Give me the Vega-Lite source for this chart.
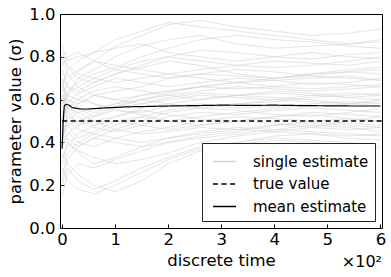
{
"$schema": "https://vega.github.io/schema/vega-lite/v6.json",
"width": 322, "height": 214,
"autosize": "none",
"padding": {"left": 60, "top": 14, "right": 9, "bottom": 49},
"background": "white",
"config": {
  "font": "DejaVu Sans",
  "view": {"stroke": "black", "strokeWidth": 1},
  "axis": {"grid": false, "domain": false, "tickColor": "black", "tickSize": -4, "labelFontSize": 16.5, "labelColor": "black", "titleFontSize": 16.5, "titleFontWeight": "normal", "titleColor": "black"},
  "legend": {"orient": "bottom-right", "offset": 7, "strokeColor": "#222", "fillColor": "white", "padding": 6, "labelFontSize": 15, "labelColor": "black", "symbolType": "stroke", "symbolSize": 529, "symbolStrokeWidth": 1.3, "symbolOffset": 4, "labelOffset": 16, "rowPadding": 1.5, "title": null}
},
"datasets": {
"single": [
{"i":1,"t":0,"v":0.45},{"i":1,"t":10,"v":0.62},{"i":1,"t":30,"v":0.70},{"i":1,"t":60,"v":0.74},{"i":1,"t":100,"v":0.80},{"i":1,"t":150,"v":0.85},{"i":1,"t":200,"v":0.88},{"i":1,"t":260,"v":0.90},{"i":1,"t":330,"v":0.86},{"i":1,"t":400,"v":0.84},{"i":1,"t":470,"v":0.85},{"i":1,"t":540,"v":0.86},{"i":1,"t":600,"v":0.88},
{"i":2,"t":0,"v":0.70},{"i":2,"t":10,"v":0.55},{"i":2,"t":30,"v":0.48},{"i":2,"t":60,"v":0.50},{"i":2,"t":100,"v":0.52},{"i":2,"t":150,"v":0.55},{"i":2,"t":200,"v":0.53},{"i":2,"t":260,"v":0.51},{"i":2,"t":330,"v":0.50},{"i":2,"t":400,"v":0.52},{"i":2,"t":470,"v":0.53},{"i":2,"t":540,"v":0.51},{"i":2,"t":600,"v":0.50},
{"i":3,"t":0,"v":0.30},{"i":3,"t":10,"v":0.40},{"i":3,"t":30,"v":0.35},{"i":3,"t":60,"v":0.30},{"i":3,"t":100,"v":0.33},{"i":3,"t":150,"v":0.38},{"i":3,"t":200,"v":0.42},{"i":3,"t":260,"v":0.45},{"i":3,"t":330,"v":0.47},{"i":3,"t":400,"v":0.46},{"i":3,"t":470,"v":0.48},{"i":3,"t":540,"v":0.47},{"i":3,"t":600,"v":0.45},
{"i":4,"t":0,"v":0.80},{"i":4,"t":10,"v":0.75},{"i":4,"t":30,"v":0.70},{"i":4,"t":60,"v":0.68},{"i":4,"t":100,"v":0.72},{"i":4,"t":150,"v":0.75},{"i":4,"t":200,"v":0.78},{"i":4,"t":260,"v":0.76},{"i":4,"t":330,"v":0.72},{"i":4,"t":400,"v":0.70},{"i":4,"t":470,"v":0.71},{"i":4,"t":540,"v":0.73},{"i":4,"t":600,"v":0.72},
{"i":5,"t":0,"v":0.50},{"i":5,"t":10,"v":0.45},{"i":5,"t":30,"v":0.40},{"i":5,"t":60,"v":0.38},{"i":5,"t":100,"v":0.42},{"i":5,"t":150,"v":0.45},{"i":5,"t":200,"v":0.47},{"i":5,"t":260,"v":0.50},{"i":5,"t":330,"v":0.52},{"i":5,"t":400,"v":0.51},{"i":5,"t":470,"v":0.50},{"i":5,"t":540,"v":0.49},{"i":5,"t":600,"v":0.48},
{"i":6,"t":0,"v":0.60},{"i":6,"t":10,"v":0.68},{"i":6,"t":30,"v":0.73},{"i":6,"t":60,"v":0.78},{"i":6,"t":100,"v":0.85},{"i":6,"t":150,"v":0.90},{"i":6,"t":200,"v":0.95},{"i":6,"t":260,"v":0.97},{"i":6,"t":330,"v":0.94},{"i":6,"t":400,"v":0.92},{"i":6,"t":470,"v":0.90},{"i":6,"t":540,"v":0.91},{"i":6,"t":600,"v":0.93},
{"i":7,"t":0,"v":0.20},{"i":7,"t":10,"v":0.28},{"i":7,"t":30,"v":0.22},{"i":7,"t":60,"v":0.18},{"i":7,"t":100,"v":0.22},{"i":7,"t":150,"v":0.28},{"i":7,"t":200,"v":0.33},{"i":7,"t":260,"v":0.38},{"i":7,"t":330,"v":0.40},{"i":7,"t":400,"v":0.42},{"i":7,"t":470,"v":0.41},{"i":7,"t":540,"v":0.40},{"i":7,"t":600,"v":0.38},
{"i":8,"t":0,"v":0.65},{"i":8,"t":10,"v":0.60},{"i":8,"t":30,"v":0.58},{"i":8,"t":60,"v":0.62},{"i":8,"t":100,"v":0.60},{"i":8,"t":150,"v":0.58},{"i":8,"t":200,"v":0.60},{"i":8,"t":260,"v":0.62},{"i":8,"t":330,"v":0.61},{"i":8,"t":400,"v":0.60},{"i":8,"t":470,"v":0.62},{"i":8,"t":540,"v":0.63},{"i":8,"t":600,"v":0.62},
{"i":9,"t":0,"v":0.40},{"i":9,"t":10,"v":0.52},{"i":9,"t":30,"v":0.56},{"i":9,"t":60,"v":0.54},{"i":9,"t":100,"v":0.58},{"i":9,"t":150,"v":0.62},{"i":9,"t":200,"v":0.64},{"i":9,"t":260,"v":0.66},{"i":9,"t":330,"v":0.65},{"i":9,"t":400,"v":0.66},{"i":9,"t":470,"v":0.68},{"i":9,"t":540,"v":0.67},{"i":9,"t":600,"v":0.66},
{"i":10,"t":0,"v":0.75},{"i":10,"t":10,"v":0.66},{"i":10,"t":30,"v":0.62},{"i":10,"t":60,"v":0.58},{"i":10,"t":100,"v":0.55},{"i":10,"t":150,"v":0.54},{"i":10,"t":200,"v":0.57},{"i":10,"t":260,"v":0.58},{"i":10,"t":330,"v":0.56},{"i":10,"t":400,"v":0.57},{"i":10,"t":470,"v":0.58},{"i":10,"t":540,"v":0.59},{"i":10,"t":600,"v":0.58},
{"i":11,"t":0,"v":0.55},{"i":11,"t":10,"v":0.48},{"i":11,"t":30,"v":0.42},{"i":11,"t":60,"v":0.45},{"i":11,"t":100,"v":0.50},{"i":11,"t":150,"v":0.48},{"i":11,"t":200,"v":0.46},{"i":11,"t":260,"v":0.48},{"i":11,"t":330,"v":0.50},{"i":11,"t":400,"v":0.49},{"i":11,"t":470,"v":0.47},{"i":11,"t":540,"v":0.46},{"i":11,"t":600,"v":0.47},
{"i":12,"t":0,"v":0.35},{"i":12,"t":10,"v":0.30},{"i":12,"t":30,"v":0.25},{"i":12,"t":60,"v":0.20},{"i":12,"t":100,"v":0.17},{"i":12,"t":150,"v":0.22},{"i":12,"t":200,"v":0.30},{"i":12,"t":260,"v":0.36},{"i":12,"t":330,"v":0.40},{"i":12,"t":400,"v":0.43},{"i":12,"t":470,"v":0.44},{"i":12,"t":540,"v":0.42},{"i":12,"t":600,"v":0.41},
{"i":13,"t":0,"v":0.85},{"i":13,"t":10,"v":0.78},{"i":13,"t":30,"v":0.80},{"i":13,"t":60,"v":0.82},{"i":13,"t":100,"v":0.84},{"i":13,"t":150,"v":0.86},{"i":13,"t":200,"v":0.82},{"i":13,"t":260,"v":0.80},{"i":13,"t":330,"v":0.78},{"i":13,"t":400,"v":0.80},{"i":13,"t":470,"v":0.82},{"i":13,"t":540,"v":0.80},{"i":13,"t":600,"v":0.79},
{"i":14,"t":0,"v":0.50},{"i":14,"t":10,"v":0.58},{"i":14,"t":30,"v":0.63},{"i":14,"t":60,"v":0.66},{"i":14,"t":100,"v":0.70},{"i":14,"t":150,"v":0.68},{"i":14,"t":200,"v":0.66},{"i":14,"t":260,"v":0.68},{"i":14,"t":330,"v":0.70},{"i":14,"t":400,"v":0.69},{"i":14,"t":470,"v":0.67},{"i":14,"t":540,"v":0.68},{"i":14,"t":600,"v":0.70},
{"i":15,"t":0,"v":0.62},{"i":15,"t":10,"v":0.52},{"i":15,"t":30,"v":0.50},{"i":15,"t":60,"v":0.47},{"i":15,"t":100,"v":0.45},{"i":15,"t":150,"v":0.48},{"i":15,"t":200,"v":0.52},{"i":15,"t":260,"v":0.54},{"i":15,"t":330,"v":0.53},{"i":15,"t":400,"v":0.55},{"i":15,"t":470,"v":0.56},{"i":15,"t":540,"v":0.55},{"i":15,"t":600,"v":0.54},
{"i":16,"t":0,"v":0.25},{"i":16,"t":10,"v":0.35},{"i":16,"t":30,"v":0.40},{"i":16,"t":60,"v":0.44},{"i":16,"t":100,"v":0.48},{"i":16,"t":150,"v":0.52},{"i":16,"t":200,"v":0.55},{"i":16,"t":260,"v":0.57},{"i":16,"t":330,"v":0.58},{"i":16,"t":400,"v":0.60},{"i":16,"t":470,"v":0.59},{"i":16,"t":540,"v":0.58},{"i":16,"t":600,"v":0.60},
{"i":17,"t":0,"v":0.72},{"i":17,"t":10,"v":0.70},{"i":17,"t":30,"v":0.74},{"i":17,"t":60,"v":0.78},{"i":17,"t":100,"v":0.76},{"i":17,"t":150,"v":0.74},{"i":17,"t":200,"v":0.72},{"i":17,"t":260,"v":0.70},{"i":17,"t":330,"v":0.68},{"i":17,"t":400,"v":0.66},{"i":17,"t":470,"v":0.65},{"i":17,"t":540,"v":0.66},{"i":17,"t":600,"v":0.67},
{"i":18,"t":0,"v":0.45},{"i":18,"t":10,"v":0.40},{"i":18,"t":30,"v":0.36},{"i":18,"t":60,"v":0.33},{"i":18,"t":100,"v":0.30},{"i":18,"t":150,"v":0.32},{"i":18,"t":200,"v":0.35},{"i":18,"t":260,"v":0.40},{"i":18,"t":330,"v":0.43},{"i":18,"t":400,"v":0.45},{"i":18,"t":470,"v":0.47},{"i":18,"t":540,"v":0.50},{"i":18,"t":600,"v":0.52},
{"i":19,"t":0,"v":0.58},{"i":19,"t":10,"v":0.64},{"i":19,"t":30,"v":0.68},{"i":19,"t":60,"v":0.72},{"i":19,"t":100,"v":0.75},{"i":19,"t":150,"v":0.80},{"i":19,"t":200,"v":0.84},{"i":19,"t":260,"v":0.88},{"i":19,"t":330,"v":0.90},{"i":19,"t":400,"v":0.88},{"i":19,"t":470,"v":0.87},{"i":19,"t":540,"v":0.85},{"i":19,"t":600,"v":0.84},
{"i":20,"t":0,"v":0.68},{"i":20,"t":10,"v":0.62},{"i":20,"t":30,"v":0.60},{"i":20,"t":60,"v":0.64},{"i":20,"t":100,"v":0.66},{"i":20,"t":150,"v":0.64},{"i":20,"t":200,"v":0.62},{"i":20,"t":260,"v":0.60},{"i":20,"t":330,"v":0.62},{"i":20,"t":400,"v":0.64},{"i":20,"t":470,"v":0.63},{"i":20,"t":540,"v":0.61},{"i":20,"t":600,"v":0.60},
{"i":21,"t":0,"v":0.15},{"i":21,"t":10,"v":0.25},{"i":21,"t":30,"v":0.30},{"i":21,"t":60,"v":0.28},{"i":21,"t":100,"v":0.32},{"i":21,"t":150,"v":0.36},{"i":21,"t":200,"v":0.40},{"i":21,"t":260,"v":0.42},{"i":21,"t":330,"v":0.44},{"i":21,"t":400,"v":0.46},{"i":21,"t":470,"v":0.45},{"i":21,"t":540,"v":0.44},{"i":21,"t":600,"v":0.43},
{"i":22,"t":0,"v":0.78},{"i":22,"t":10,"v":0.72},{"i":22,"t":30,"v":0.66},{"i":22,"t":60,"v":0.62},{"i":22,"t":100,"v":0.60},{"i":22,"t":150,"v":0.62},{"i":22,"t":200,"v":0.64},{"i":22,"t":260,"v":0.66},{"i":22,"t":330,"v":0.68},{"i":22,"t":400,"v":0.70},{"i":22,"t":470,"v":0.72},{"i":22,"t":540,"v":0.74},{"i":22,"t":600,"v":0.75},
{"i":23,"t":0,"v":0.52},{"i":23,"t":10,"v":0.56},{"i":23,"t":30,"v":0.60},{"i":23,"t":60,"v":0.58},{"i":23,"t":100,"v":0.56},{"i":23,"t":150,"v":0.58},{"i":23,"t":200,"v":0.61},{"i":23,"t":260,"v":0.63},{"i":23,"t":330,"v":0.62},{"i":23,"t":400,"v":0.61},{"i":23,"t":470,"v":0.60},{"i":23,"t":540,"v":0.58},{"i":23,"t":600,"v":0.57},
{"i":24,"t":0,"v":0.38},{"i":24,"t":10,"v":0.44},{"i":24,"t":30,"v":0.48},{"i":24,"t":60,"v":0.52},{"i":24,"t":100,"v":0.55},{"i":24,"t":150,"v":0.53},{"i":24,"t":200,"v":0.50},{"i":24,"t":260,"v":0.48},{"i":24,"t":330,"v":0.50},{"i":24,"t":400,"v":0.52},{"i":24,"t":470,"v":0.54},{"i":24,"t":540,"v":0.53},{"i":24,"t":600,"v":0.52},
{"i":25,"t":0,"v":0.66},{"i":25,"t":10,"v":0.74},{"i":25,"t":30,"v":0.78},{"i":25,"t":60,"v":0.82},{"i":25,"t":100,"v":0.88},{"i":25,"t":150,"v":0.92},{"i":25,"t":200,"v":0.96},{"i":25,"t":260,"v":0.94},{"i":25,"t":330,"v":0.92},{"i":25,"t":400,"v":0.90},{"i":25,"t":470,"v":0.88},{"i":25,"t":540,"v":0.86},{"i":25,"t":600,"v":0.87},
{"i":26,"t":0,"v":0.48},{"i":26,"t":10,"v":0.42},{"i":26,"t":30,"v":0.38},{"i":26,"t":60,"v":0.42},{"i":26,"t":100,"v":0.46},{"i":26,"t":150,"v":0.50},{"i":26,"t":200,"v":0.54},{"i":26,"t":260,"v":0.56},{"i":26,"t":330,"v":0.55},{"i":26,"t":400,"v":0.53},{"i":26,"t":470,"v":0.52},{"i":26,"t":540,"v":0.54},{"i":26,"t":600,"v":0.56},
{"i":27,"t":0,"v":0.82},{"i":27,"t":10,"v":0.76},{"i":27,"t":30,"v":0.72},{"i":27,"t":60,"v":0.70},{"i":27,"t":100,"v":0.68},{"i":27,"t":150,"v":0.70},{"i":27,"t":200,"v":0.72},{"i":27,"t":260,"v":0.74},{"i":27,"t":330,"v":0.76},{"i":27,"t":400,"v":0.78},{"i":27,"t":470,"v":0.77},{"i":27,"t":540,"v":0.76},{"i":27,"t":600,"v":0.78},
{"i":28,"t":0,"v":0.28},{"i":28,"t":10,"v":0.22},{"i":28,"t":30,"v":0.18},{"i":28,"t":60,"v":0.16},{"i":28,"t":100,"v":0.20},{"i":28,"t":150,"v":0.26},{"i":28,"t":200,"v":0.32},{"i":28,"t":260,"v":0.37},{"i":28,"t":330,"v":0.39},{"i":28,"t":400,"v":0.41},{"i":28,"t":470,"v":0.40},{"i":28,"t":540,"v":0.39},{"i":28,"t":600,"v":0.37},
{"i":29,"t":0,"v":0.60},{"i":29,"t":10,"v":0.56},{"i":29,"t":30,"v":0.54},{"i":29,"t":60,"v":0.56},{"i":29,"t":100,"v":0.58},{"i":29,"t":150,"v":0.60},{"i":29,"t":200,"v":0.62},{"i":29,"t":260,"v":0.64},{"i":29,"t":330,"v":0.66},{"i":29,"t":400,"v":0.65},{"i":29,"t":470,"v":0.64},{"i":29,"t":540,"v":0.65},{"i":29,"t":600,"v":0.66},
{"i":30,"t":0,"v":0.42},{"i":30,"t":10,"v":0.50},{"i":30,"t":30,"v":0.54},{"i":30,"t":60,"v":0.50},{"i":30,"t":100,"v":0.46},{"i":30,"t":150,"v":0.44},{"i":30,"t":200,"v":0.45},{"i":30,"t":260,"v":0.47},{"i":30,"t":330,"v":0.46},{"i":30,"t":400,"v":0.45},{"i":30,"t":470,"v":0.44},{"i":30,"t":540,"v":0.43},{"i":30,"t":600,"v":0.44},
{"i":31,"t":0,"v":0.70},{"i":31,"t":10,"v":0.66},{"i":31,"t":30,"v":0.64},{"i":31,"t":60,"v":0.68},{"i":31,"t":100,"v":0.72},{"i":31,"t":150,"v":0.76},{"i":31,"t":200,"v":0.80},{"i":31,"t":260,"v":0.83},{"i":31,"t":330,"v":0.82},{"i":31,"t":400,"v":0.80},{"i":31,"t":470,"v":0.79},{"i":31,"t":540,"v":0.81},{"i":31,"t":600,"v":0.82},
{"i":32,"t":0,"v":0.55},{"i":32,"t":10,"v":0.50},{"i":32,"t":30,"v":0.46},{"i":32,"t":60,"v":0.44},{"i":32,"t":100,"v":0.42},{"i":32,"t":150,"v":0.40},{"i":32,"t":200,"v":0.42},{"i":32,"t":260,"v":0.44},{"i":32,"t":330,"v":0.46},{"i":32,"t":400,"v":0.48},{"i":32,"t":470,"v":0.50},{"i":32,"t":540,"v":0.51},{"i":32,"t":600,"v":0.50},
{"i":33,"t":0,"v":0.33},{"i":33,"t":10,"v":0.38},{"i":33,"t":30,"v":0.44},{"i":33,"t":60,"v":0.48},{"i":33,"t":100,"v":0.52},{"i":33,"t":150,"v":0.56},{"i":33,"t":200,"v":0.58},{"i":33,"t":260,"v":0.60},{"i":33,"t":330,"v":0.62},{"i":33,"t":400,"v":0.63},{"i":33,"t":470,"v":0.62},{"i":33,"t":540,"v":0.61},{"i":33,"t":600,"v":0.62},
{"i":34,"t":0,"v":0.76},{"i":34,"t":10,"v":0.80},{"i":34,"t":30,"v":0.82},{"i":34,"t":60,"v":0.78},{"i":34,"t":100,"v":0.74},{"i":34,"t":150,"v":0.72},{"i":34,"t":200,"v":0.70},{"i":34,"t":260,"v":0.72},{"i":34,"t":330,"v":0.74},{"i":34,"t":400,"v":0.73},{"i":34,"t":470,"v":0.71},{"i":34,"t":540,"v":0.70},{"i":34,"t":600,"v":0.69},
{"i":35,"t":0,"v":0.48},{"i":35,"t":10,"v":0.54},{"i":35,"t":30,"v":0.58},{"i":35,"t":60,"v":0.62},{"i":35,"t":100,"v":0.64},{"i":35,"t":150,"v":0.66},{"i":35,"t":200,"v":0.70},{"i":35,"t":260,"v":0.72},{"i":35,"t":330,"v":0.71},{"i":35,"t":400,"v":0.70},{"i":35,"t":470,"v":0.72},{"i":35,"t":540,"v":0.73},{"i":35,"t":600,"v":0.74},
{"i":36,"t":0,"v":0.62},{"i":36,"t":10,"v":0.58},{"i":36,"t":30,"v":0.52},{"i":36,"t":60,"v":0.48},{"i":36,"t":100,"v":0.50},{"i":36,"t":150,"v":0.52},{"i":36,"t":200,"v":0.50},{"i":36,"t":260,"v":0.52},{"i":36,"t":330,"v":0.54},{"i":36,"t":400,"v":0.56},{"i":36,"t":470,"v":0.57},{"i":36,"t":540,"v":0.58},{"i":36,"t":600,"v":0.59},
{"i":37,"t":0,"v":0.22},{"i":37,"t":10,"v":0.32},{"i":37,"t":30,"v":0.38},{"i":37,"t":60,"v":0.42},{"i":37,"t":100,"v":0.40},{"i":37,"t":150,"v":0.38},{"i":37,"t":200,"v":0.40},{"i":37,"t":260,"v":0.43},{"i":37,"t":330,"v":0.45},{"i":37,"t":400,"v":0.48},{"i":37,"t":470,"v":0.49},{"i":37,"t":540,"v":0.48},{"i":37,"t":600,"v":0.47},
{"i":38,"t":0,"v":0.57},{"i":38,"t":10,"v":0.63},{"i":38,"t":30,"v":0.66},{"i":38,"t":60,"v":0.70},{"i":38,"t":100,"v":0.74},{"i":38,"t":150,"v":0.78},{"i":38,"t":200,"v":0.80},{"i":38,"t":260,"v":0.78},{"i":38,"t":330,"v":0.76},{"i":38,"t":400,"v":0.75},{"i":38,"t":470,"v":0.76},{"i":38,"t":540,"v":0.78},{"i":38,"t":600,"v":0.80},
{"i":39,"t":0,"v":0.44},{"i":39,"t":10,"v":0.48},{"i":39,"t":30,"v":0.50},{"i":39,"t":60,"v":0.53},{"i":39,"t":100,"v":0.57},{"i":39,"t":150,"v":0.60},{"i":39,"t":200,"v":0.58},{"i":39,"t":260,"v":0.56},{"i":39,"t":330,"v":0.58},{"i":39,"t":400,"v":0.59},{"i":39,"t":470,"v":0.61},{"i":39,"t":540,"v":0.62},{"i":39,"t":600,"v":0.63},
{"i":40,"t":0,"v":0.66},{"i":40,"t":10,"v":0.60},{"i":40,"t":30,"v":0.56},{"i":40,"t":60,"v":0.52},{"i":40,"t":100,"v":0.56},{"i":40,"t":150,"v":0.60},{"i":40,"t":200,"v":0.63},{"i":40,"t":260,"v":0.66},{"i":40,"t":330,"v":0.68},{"i":40,"t":400,"v":0.69},{"i":40,"t":470,"v":0.70},{"i":40,"t":540,"v":0.71},{"i":40,"t":600,"v":0.69}
],
"mean": [
{"t":0,"v":0.37},{"t":2,"v":0.50},{"t":4,"v":0.57},{"t":7,"v":0.578},{"t":12,"v":0.575},{"t":20,"v":0.562},{"t":35,"v":0.556},{"t":50,"v":0.556},{"t":80,"v":0.561},{"t":120,"v":0.566},{"t":160,"v":0.568},{"t":200,"v":0.570},{"t":250,"v":0.572},{"t":300,"v":0.574},{"t":350,"v":0.573},{"t":400,"v":0.574},{"t":450,"v":0.572},{"t":500,"v":0.571},{"t":550,"v":0.570},{"t":600,"v":0.570}
]
},
"layer": [
{
 "data": {"name": "single"},
 "mark": {"type": "line", "strokeWidth": 0.7},
 "encoding": {
  "x": {"field": "t", "type": "quantitative", "scale": {"domain": [-4, 603], "nice": false, "zero": false},
        "axis": {"title": "discrete time", "values": [0,100,200,300,400,500,600], "labelExpr": "format(datum.value/100, 'd')", "labelPadding": 7, "titlePadding": 5}},
  "y": {"field": "v", "type": "quantitative", "scale": {"domain": [0, 1], "nice": false},
        "axis": {"title": "parameter value (σ)", "values": [0,0.2,0.4,0.6,0.8,1.0], "format": ".1f", "labelPadding": 9, "titlePadding": 5}},
  "detail": {"field": "i"},
  "color": {"datum": "single estimate", "type": "nominal", "scale": {"domain": ["single estimate", "true value", "mean estimate"], "range": ["#d6d6d6", "black", "black"]}},
  "strokeDash": {"datum": "single estimate", "type": "nominal", "scale": {"domain": ["single estimate", "true value", "mean estimate"], "range": [[1, 0], [5, 3.5], [1, 0]]}}
 }
},
{
 "data": {"values": [{"x": 0, "x2": 603, "y": 0.5}]},
 "mark": {"type": "rule", "strokeWidth": 1.5},
 "encoding": {
  "x": {"field": "x", "type": "quantitative"},
  "x2": {"field": "x2"},
  "y": {"field": "y", "type": "quantitative"},
  "color": {"datum": "true value", "type": "nominal"},
  "strokeDash": {"datum": "true value", "type": "nominal"}
 }
},
{
 "data": {"name": "mean"},
 "mark": {"type": "line", "strokeWidth": 1.2},
 "encoding": {
  "x": {"field": "t", "type": "quantitative"},
  "y": {"field": "v", "type": "quantitative"},
  "color": {"datum": "mean estimate", "type": "nominal"},
  "strokeDash": {"datum": "mean estimate", "type": "nominal"}
 }
},
{
 "data": {"values": [{"x": 603, "y": -0.183, "label": "×10²"}]},
 "mark": {"type": "text", "align": "right", "baseline": "alphabetic", "fontSize": 16, "clip": false, "color": "black"},
 "encoding": {
  "x": {"field": "x", "type": "quantitative"},
  "y": {"field": "y", "type": "quantitative"},
  "text": {"field": "label"}
 }
}
]
}
